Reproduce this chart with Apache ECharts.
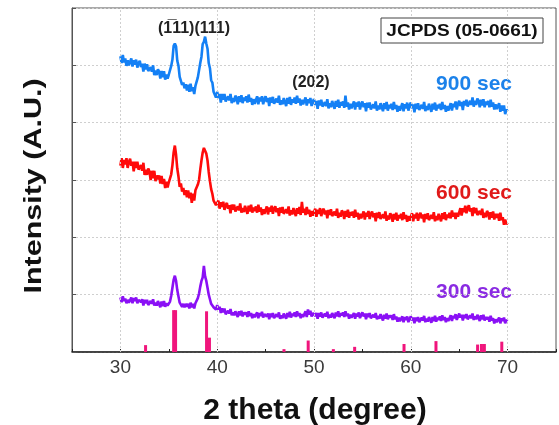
<!DOCTYPE html>
<html>
<head>
<meta charset="utf-8">
<script src="https://cdn.jsdelivr.net/npm/echarts@6/dist/echarts.min.js"></script>
<style>
  html, body { margin: 0; padding: 0; background: #ffffff; }
  #chart { width: 559px; height: 425px; }
</style>
</head>
<body>
<div id="chart"></div>
<script>
// XRD scans, 2θ from 30° to 70° in 0.125° steps (one row per degree),
// stacked with a vertical offset
const scanStart = 30;
const scanStep = 0.125;

const intensity900 = [
  5.16, 5.04, 5.18, 5.05, 5.12, 4.99, 5.09, 5.00, // 30
  5.02, 5.12, 4.98, 5.09, 5.01, 5.10, 4.96, 5.04, // 31
  5.08, 4.97, 5.03, 4.89, 5.03, 4.93, 5.02, 4.90, // 32
  4.88, 4.97, 4.89, 5.00, 4.83, 4.91, 4.83, 4.93, // 33
  4.89, 4.77, 4.90, 4.79, 4.90, 4.75, 4.84, 4.77, // 34
  4.84, 4.81, 4.99, 5.10, 5.34, 5.38, 5.33, 5.08, // 35
  4.99, 4.80, 4.80, 4.66, 4.70, 4.60, 4.67, 4.56, // 36
  4.66, 4.54, 4.68, 4.55, 4.62, 4.50, 4.64, 4.62, // 37
  4.79, 4.82, 5.04, 5.15, 5.37, 5.41, 5.50, 5.38, // 38
  5.29, 5.04, 4.95, 4.74, 4.70, 4.54, 4.56, 4.44, // 39
  4.54, 4.43, 4.50, 4.35, 4.50, 4.40, 4.50, 4.37, // 40
  4.36, 4.46, 4.39, 4.50, 4.34, 4.43, 4.36, 4.47, // 41
  4.43, 4.32, 4.46, 4.36, 4.48, 4.34, 4.44, 4.38, // 42
  4.46, 4.35, 4.49, 4.37, 4.43, 4.31, 4.41, 4.33, // 43
  4.35, 4.46, 4.32, 4.44, 4.37, 4.46, 4.32, 4.41, // 44
  4.46, 4.36, 4.43, 4.29, 4.44, 4.35, 4.45, 4.33, // 45
  4.32, 4.42, 4.35, 4.47, 4.31, 4.39, 4.32, 4.43, // 46
  4.40, 4.29, 4.43, 4.33, 4.45, 4.31, 4.41, 4.35, // 47
  4.44, 4.33, 4.47, 4.35, 4.42, 4.30, 4.40, 4.32, // 48
  4.33, 4.44, 4.30, 4.41, 4.34, 4.43, 4.29, 4.37, // 49
  4.41, 4.31, 4.38, 4.24, 4.39, 4.30, 4.40, 4.28, // 50
  4.26, 4.36, 4.29, 4.41, 4.25, 4.34, 4.27, 4.38, // 51
  4.35, 4.24, 4.38, 4.28, 4.40, 4.26, 4.36, 4.30, // 52
  4.37, 4.26, 4.47, 4.28, 4.35, 4.23, 4.33, 4.25, // 53
  4.26, 4.37, 4.23, 4.35, 4.28, 4.37, 4.23, 4.32, // 54
  4.37, 4.27, 4.34, 4.20, 4.35, 4.26, 4.35, 4.23, // 55
  4.22, 4.32, 4.25, 4.37, 4.21, 4.30, 4.23, 4.34, // 56
  4.31, 4.20, 4.34, 4.24, 4.36, 4.21, 4.31, 4.25, // 57
  4.33, 4.22, 4.36, 4.24, 4.31, 4.19, 4.29, 4.21, // 58
  4.23, 4.34, 4.20, 4.32, 4.25, 4.35, 4.21, 4.30, // 59
  4.35, 4.25, 4.32, 4.18, 4.33, 4.24, 4.34, 4.22, // 60
  4.21, 4.31, 4.24, 4.36, 4.20, 4.29, 4.22, 4.33, // 61
  4.30, 4.19, 4.33, 4.23, 4.35, 4.21, 4.31, 4.25, // 62
  4.33, 4.22, 4.36, 4.24, 4.31, 4.19, 4.29, 4.21, // 63
  4.23, 4.34, 4.21, 4.33, 4.27, 4.37, 4.23, 4.33, // 64
  4.38, 4.29, 4.36, 4.22, 4.38, 4.30, 4.40, 4.28, // 65
  4.27, 4.38, 4.31, 4.44, 4.28, 4.38, 4.31, 4.42, // 66
  4.38, 4.27, 4.40, 4.30, 4.41, 4.27, 4.37, 4.31, // 67
  4.38, 4.27, 4.40, 4.28, 4.35, 4.23, 4.32, 4.24, // 68
  4.24, 4.34, 4.19, 4.30, 4.21, 4.30, 4.15, 4.23, // 69
  4.20                                            // 70
];

const intensity600 = [
  3.25, 3.38, 3.21, 3.35, 3.27, 3.38, 3.21, 3.31, // 30
  3.37, 3.25, 3.32, 3.15, 3.32, 3.21, 3.32, 3.18, // 31
  3.15, 3.26, 3.16, 3.30, 3.09, 3.18, 3.09, 3.20, // 32
  3.15, 3.00, 3.16, 3.03, 3.16, 2.98, 3.08, 3.01, // 33
  3.08, 2.94, 3.07, 2.93, 3.02, 2.86, 2.97, 2.87, // 34
  2.96, 2.98, 3.10, 3.26, 3.48, 3.60, 3.44, 3.20, // 35
  3.06, 2.88, 2.94, 2.80, 2.86, 2.74, 2.82, 2.70, // 36
  2.82, 2.68, 2.78, 2.60, 2.76, 2.64, 2.82, 2.80, // 37
  2.92, 3.00, 3.18, 3.34, 3.48, 3.56, 3.58, 3.46, // 38
  3.34, 3.14, 2.98, 2.84, 2.76, 2.64, 2.66, 2.56, // 39
  2.54, 2.64, 2.50, 2.61, 2.53, 2.62, 2.48, 2.56, // 40
  2.60, 2.50, 2.56, 2.42, 2.57, 2.48, 2.57, 2.45, // 41
  2.44, 2.54, 2.47, 2.59, 2.43, 2.51, 2.44, 2.55, // 42
  2.52, 2.41, 2.55, 2.45, 2.57, 2.43, 2.52, 2.46, // 43
  2.54, 2.43, 2.57, 2.45, 2.52, 2.39, 2.49, 2.41, // 44
  2.43, 2.54, 2.40, 2.52, 2.45, 2.55, 2.41, 2.50, // 45
  2.54, 2.44, 2.51, 2.37, 2.52, 2.43, 2.53, 2.41, // 46
  2.39, 2.49, 2.42, 2.54, 2.38, 2.47, 2.40, 2.51, // 47
  2.48, 2.37, 2.51, 2.41, 2.53, 2.39, 2.62, 2.43, // 48
  2.50, 2.39, 2.53, 2.41, 2.48, 2.36, 2.46, 2.38, // 49
  2.39, 2.50, 2.36, 2.48, 2.41, 2.51, 2.37, 2.46, // 50
  2.50, 2.40, 2.47, 2.33, 2.48, 2.39, 2.49, 2.37, // 51
  2.35, 2.45, 2.38, 2.50, 2.34, 2.43, 2.36, 2.47, // 52
  2.43, 2.32, 2.46, 2.36, 2.48, 2.34, 2.44, 2.38, // 53
  2.45, 2.34, 2.48, 2.36, 2.43, 2.31, 2.41, 2.33, // 54
  2.34, 2.45, 2.31, 2.43, 2.36, 2.46, 2.32, 2.41, // 55
  2.45, 2.35, 2.42, 2.28, 2.43, 2.34, 2.44, 2.32, // 56
  2.30, 2.40, 2.33, 2.45, 2.29, 2.38, 2.31, 2.42, // 57
  2.38, 2.27, 2.41, 2.31, 2.43, 2.29, 2.39, 2.33, // 58
  2.41, 2.30, 2.44, 2.32, 2.39, 2.27, 2.37, 2.29, // 59
  2.31, 2.42, 2.28, 2.40, 2.33, 2.43, 2.29, 2.38, // 60
  2.43, 2.33, 2.40, 2.26, 2.41, 2.32, 2.42, 2.30, // 61
  2.29, 2.39, 2.32, 2.44, 2.28, 2.37, 2.30, 2.41, // 62
  2.39, 2.28, 2.42, 2.32, 2.44, 2.30, 2.40, 2.34, // 63
  2.43, 2.33, 2.47, 2.36, 2.43, 2.32, 2.43, 2.36, // 64
  2.39, 2.51, 2.38, 2.51, 2.44, 2.55, 2.42, 2.51, // 65
  2.56, 2.45, 2.51, 2.37, 2.52, 2.42, 2.51, 2.39, // 66
  2.37, 2.46, 2.39, 2.50, 2.34, 2.43, 2.35, 2.46, // 67
  2.42, 2.31, 2.44, 2.34, 2.45, 2.31, 2.41, 2.34, // 68
  2.41, 2.29, 2.43, 2.30, 2.35, 2.22, 2.31, 2.23, // 69
  2.26                                            // 70
];

const intensity300 = [
  0.95, 0.87, 0.97, 0.89, 0.93, 0.85, 0.91, 0.86, // 30
  0.87, 0.95, 0.85, 0.94, 0.89, 0.95, 0.85, 0.91, // 31
  0.94, 0.87, 0.92, 0.81, 0.91, 0.85, 0.91, 0.82, // 32
  0.82, 0.89, 0.84, 0.92, 0.81, 0.86, 0.81, 0.89, // 33
  0.86, 0.78, 0.88, 0.80, 0.89, 0.79, 0.85, 0.81, // 34
  0.84, 0.88, 0.98, 1.12, 1.26, 1.33, 1.24, 1.08, // 35
  0.97, 0.86, 0.87, 0.79, 0.84, 0.78, 0.84, 0.79, // 36
  0.84, 0.76, 0.86, 0.78, 0.84, 0.76, 0.85, 0.84, // 37
  0.94, 1.02, 1.14, 1.24, 1.30, 1.50, 1.32, 1.24, // 38
  1.12, 1.00, 0.92, 0.84, 0.84, 0.78, 0.80, 0.74, // 39
  0.82, 0.74, 0.79, 0.68, 0.76, 0.69, 0.76, 0.66, // 40
  0.66, 0.72, 0.67, 0.75, 0.64, 0.69, 0.64, 0.71, // 41
  0.69, 0.61, 0.71, 0.64, 0.72, 0.62, 0.69, 0.65, // 42
  0.69, 0.61, 0.71, 0.63, 0.68, 0.59, 0.66, 0.61, // 43
  0.61, 0.69, 0.59, 0.68, 0.63, 0.70, 0.60, 0.66, // 44
  0.69, 0.62, 0.67, 0.57, 0.67, 0.61, 0.68, 0.59, // 45
  0.59, 0.66, 0.61, 0.69, 0.58, 0.64, 0.59, 0.67, // 46
  0.66, 0.58, 0.68, 0.61, 0.70, 0.60, 0.67, 0.63, // 47
  0.69, 0.61, 0.71, 0.63, 0.68, 0.59, 0.66, 0.61, // 48
  0.63, 0.71, 0.61, 0.74, 0.65, 0.72, 0.62, 0.68, // 49
  0.70, 0.63, 0.68, 0.58, 0.68, 0.62, 0.69, 0.60, // 50
  0.60, 0.67, 0.62, 0.70, 0.59, 0.65, 0.60, 0.68, // 51
  0.67, 0.59, 0.69, 0.62, 0.71, 0.61, 0.68, 0.64, // 52
  0.69, 0.61, 0.71, 0.63, 0.67, 0.58, 0.65, 0.60, // 53
  0.60, 0.68, 0.58, 0.67, 0.62, 0.69, 0.59, 0.65, // 54
  0.69, 0.62, 0.67, 0.57, 0.67, 0.61, 0.68, 0.59, // 55
  0.58, 0.65, 0.60, 0.68, 0.57, 0.63, 0.58, 0.66, // 56
  0.63, 0.55, 0.65, 0.58, 0.67, 0.57, 0.64, 0.60, // 57
  0.64, 0.56, 0.66, 0.57, 0.62, 0.53, 0.60, 0.54, // 58
  0.54, 0.62, 0.52, 0.61, 0.56, 0.62, 0.52, 0.58, // 59
  0.62, 0.55, 0.60, 0.50, 0.60, 0.54, 0.61, 0.52, // 60
  0.53, 0.60, 0.55, 0.63, 0.52, 0.58, 0.53, 0.61, // 61
  0.59, 0.51, 0.61, 0.54, 0.63, 0.53, 0.60, 0.56, // 62
  0.62, 0.54, 0.64, 0.56, 0.61, 0.52, 0.59, 0.54, // 63
  0.56, 0.64, 0.54, 0.63, 0.59, 0.66, 0.56, 0.62, // 64
  0.67, 0.60, 0.65, 0.55, 0.65, 0.59, 0.66, 0.57, // 65
  0.57, 0.64, 0.59, 0.67, 0.56, 0.62, 0.57, 0.65, // 66
  0.62, 0.54, 0.64, 0.57, 0.65, 0.55, 0.61, 0.57, // 67
  0.61, 0.53, 0.63, 0.55, 0.59, 0.50, 0.57, 0.52, // 68
  0.52, 0.60, 0.50, 0.59, 0.54, 0.60, 0.50, 0.56, // 69
  0.54                                            // 70
];

// JCPDS 05-0661 reference lines (2θ, relative height)
const refPositions = [32.6, 35.5, 35.7, 38.9, 39.2, 46.9, 49.4, 52.0, 54.2, 59.3, 62.6, 66.9, 67.3, 67.6, 69.4];
const refHeights   = [0.12, 0.73, 0.73, 0.71, 0.25, 0.05, 0.20, 0.05, 0.09, 0.14, 0.19, 0.13, 0.14, 0.14, 0.18];

const xTickLabels = [30, 40, 50, 60, 70];

const toPairs = arr => arr.map((v, i) => [scanStart + i * scanStep, v]);
const refData = refPositions.map((p, i) => [p, refHeights[i]]);

const fontFamily = '"Liberation Sans", Arial, sans-serif';

const chart = echarts.init(document.getElementById('chart'), null, { renderer: 'canvas' });

chart.setOption({
  backgroundColor: '#ffffff',
  animation: false,
  grid: {
    left: 72, right: 2, top: 8, bottom: 73,
    show: true, borderColor: '#555555', borderWidth: 1
  },
  xAxis: {
    type: 'value',
    min: 25, max: 75, interval: 5,
    axisLine: { show: true, lineStyle: { color: '#222222', width: 1.5 } },
    axisTick: { show: true, inside: true, length: 3, lineStyle: { color: '#222222' } },
    axisLabel: {
      color: '#3a3a3a', fontSize: 19, fontFamily: fontFamily, margin: 6,
      formatter: v => (xTickLabels.indexOf(v) >= 0 ? String(v) : '')
    },
    splitLine: { show: false }
  },
  yAxis: {
    type: 'value',
    min: 0, max: 6, interval: 1,
    axisLine: { show: true, lineStyle: { color: '#555555', width: 1 } },
    axisTick: { show: true, inside: true, length: 4, lineStyle: { color: '#555555' } },
    axisLabel: { show: false },
    splitLine: { show: true, lineStyle: { color: '#cfcfcf', type: [2, 2], width: 1 } }
  },
  series: [
    {
      name: 'JCPDS 05-0661',
      type: 'bar',
      data: refData,
      barWidth: 3,
      itemStyle: { color: '#f0157c' },
      z: 1,
      markLine: {
        silent: true,
        symbol: ['none', 'none'],
        label: { show: false },
        lineStyle: { color: '#cfcfcf', type: [2, 2], width: 1 },
        data: xTickLabels.map(v => ({ xAxis: v }))
      }
    },
    {
      name: '300 sec', type: 'line', data: toPairs(intensity300),
      showSymbol: false, lineStyle: { color: '#8a10f5', width: 2.6 }, z: 3
    },
    {
      name: '600 sec', type: 'line', data: toPairs(intensity600),
      showSymbol: false, lineStyle: { color: '#ff0a0a', width: 2.6 }, z: 3
    },
    {
      name: '900 sec', type: 'line', data: toPairs(intensity900),
      showSymbol: false, lineStyle: { color: '#1480f5', width: 2.6 }, z: 3
    }
  ],
  graphic: [
    {
      type: 'text', x: 34, y: 186, rotation: Math.PI / 2, scaleX: 1.27,
      style: {
        text: 'Intensity (A.U.)', fill: '#111111',
        font: 'bold 24px ' + fontFamily, align: 'center', verticalAlign: 'middle'
      }
    },
    {
      type: 'text', x: 315, y: 411,
      style: {
        text: '2 theta (degree)', fill: '#111111',
        font: 'bold 30px ' + fontFamily, align: 'center', verticalAlign: 'middle'
      }
    },
    {
      type: 'text', x: 194, y: 29,
      style: {
        text: '(1\u030511)(111)', fill: '#222222',
        font: 'bold 16px ' + fontFamily, align: 'center', verticalAlign: 'middle'
      }
    },
    {
      type: 'text', x: 311, y: 83,
      style: {
        text: '(202)', fill: '#222222',
        font: 'bold 16px ' + fontFamily, align: 'center', verticalAlign: 'middle'
      }
    },
    {
      type: 'rect', shape: { x: 381, y: 18, width: 162, height: 25 },
      style: { fill: '#ffffff', stroke: '#444444', lineWidth: 1 }, z: 10
    },
    {
      type: 'text', x: 462, y: 31, z: 11, scaleX: 1.12,
      style: {
        text: 'JCPDS (05-0661)', fill: '#111111',
        font: 'bold 17px ' + fontFamily, align: 'center', verticalAlign: 'middle'
      }
    },
    {
      type: 'text', x: 512, y: 84,
      style: { text: '900 sec', fill: '#1c82ea', font: 'bold 21px ' + fontFamily, align: 'right', verticalAlign: 'middle' }
    },
    {
      type: 'text', x: 512, y: 193,
      style: { text: '600 sec', fill: '#e01a1a', font: 'bold 21px ' + fontFamily, align: 'right', verticalAlign: 'middle' }
    },
    {
      type: 'text', x: 512, y: 292,
      style: { text: '300 sec', fill: '#8a2be2', font: 'bold 21px ' + fontFamily, align: 'right', verticalAlign: 'middle' }
    }
  ]
});
</script>
</body>
</html>
